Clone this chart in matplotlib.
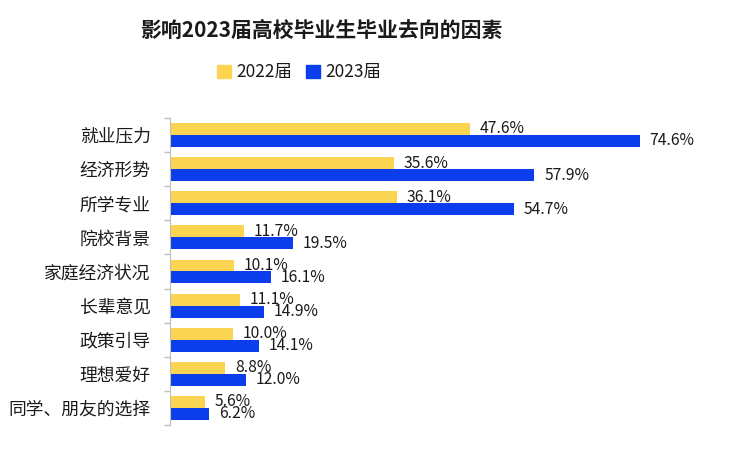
import numpy as np
import matplotlib
matplotlib.use('Agg')
import matplotlib.pyplot as plt
from matplotlib.patches import Patch

plt.rcParams['font.family'] = ['Noto Sans CJK SC', 'DejaVu Sans']

# Data
categories = ['就业压力', '经济形势', '所学专业', '院校背景', '家庭经济状况',
              '长辈意见', '政策引导', '理想爱好', '同学、朋友的选择']
values_2022 = [47.6, 35.6, 36.1, 11.7, 10.1, 11.1, 10.0, 8.8, 5.6]
values_2023 = [74.6, 57.9, 54.7, 19.5, 16.1, 14.9, 14.1, 12.0, 6.2]
series_names = ['2022届', '2023届']

color_2022 = '#FBD452'
color_2023 = '#0C3DEB'
text_color = '#1a1a1a'

fig = plt.figure(figsize=(7.47, 4.57), dpi=100)
ax = fig.add_axes([0.2276, 0.070, 0.75, 0.672])

y = np.arange(len(categories))
h = 0.35
bars_a = ax.barh(y - h / 2, values_2022, height=h, color=color_2022)
bars_b = ax.barh(y + h / 2, values_2023, height=h, color=color_2023)

for bars, vals in [(bars_a, values_2022), (bars_b, values_2023)]:
    for bar, v in zip(bars, vals):
        ax.annotate(f'{v:.1f}%', xy=(bar.get_width(), bar.get_y() + bar.get_height() / 2),
                    xytext=(7, 0), textcoords='offset points',
                    va='center', ha='left', fontsize=11.3, color=text_color)

ax.set_xlim(0, 89)
ax.set_ylim(len(categories) - 0.5, -0.5)

# category labels at centers, tick marks at group boundaries
ax.set_yticks(y)
ax.set_yticklabels(categories, fontsize=12.8, color=text_color)
ax.tick_params(axis='y', which='major', length=0, pad=14)
ax.set_yticks(np.arange(-0.5, len(categories), 1), minor=True)
ax.tick_params(axis='y', which='minor', length=4, color='#BFBFBF', width=1)

ax.set_xticks([])
for side in ['top', 'right', 'bottom']:
    ax.spines[side].set_visible(False)
ax.spines['left'].set_color('#BFBFBF')

fig.text(0.43, 0.934, '影响2023届高校毕业生毕业去向的因素', ha='center', va='center',
         fontsize=15, fontweight='heavy', color=text_color)

handles = [Patch(color=color_2022, label=series_names[0]),
           Patch(color=color_2023, label=series_names[1])]
fig.legend(handles=handles, loc='center', bbox_to_anchor=(0.40, 0.842), ncol=2,
           frameon=False, fontsize=12.5, handlelength=0.8, handleheight=0.8,
           handletextpad=0.3, columnspacing=0.8, labelcolor=text_color)

fig.savefig('out.png', dpi=100)
